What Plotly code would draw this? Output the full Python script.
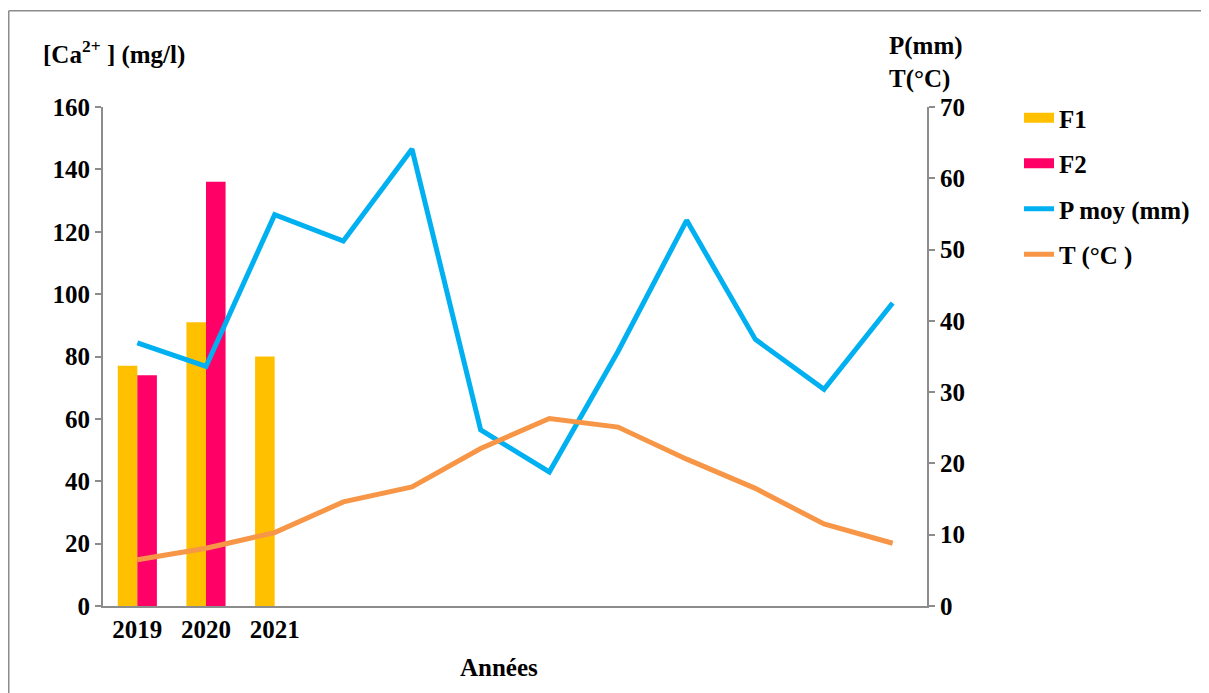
import plotly.graph_objects as go

# ---- data ----
years = ["2019", "2020", "2021"]
f1_ca = [77, 91, 80]
f2_ca = [74, 136]
p_moy = [36.9, 33.6, 54.9, 51.2, 64.1, 24.7, 18.8, 35.7, 54.1, 37.4, 30.4, 42.5]
temp = [6.5, 8.1, 10.3, 14.6, 16.7, 22.1, 26.3, 25.1, 20.6, 16.5, 11.5, 8.8]
n_points = list(range(len(p_moy)))

FONT = "Liberation Serif"
FS = 25
GRAY = "#8c8c8c"
C_F1, C_F2, C_P, C_T = "#FFC000", "#FF0066", "#00B0F0", "#F79646"

fig = go.Figure()
fig.add_trace(go.Bar(x=n_points[:len(f1_ca)], y=f1_ca, name="F1",
                     marker=dict(color=C_F1, line=dict(width=0)), showlegend=False))
fig.add_trace(go.Bar(x=n_points[:len(f2_ca)], y=f2_ca, name="F2",
                     marker=dict(color=C_F2, line=dict(width=0)), showlegend=False))
fig.add_trace(go.Scatter(x=n_points, y=p_moy, name="<b>P moy (mm)</b>", mode="lines",
                         line=dict(color=C_P, width=5), yaxis="y2", legendgroup="c",
                         legendrank=3))
fig.add_trace(go.Scatter(x=n_points, y=temp, name="<b>T (°C )</b>", mode="lines",
                         line=dict(color=C_T, width=5), yaxis="y2", legendgroup="d",
                         legendrank=4))
# legend entries for the bars, drawn as wide swatches
fig.add_trace(go.Scatter(x=[None], y=[None], name="<b>F1</b>", mode="lines",
                         line=dict(color=C_F1, width=14), legendgroup="a", legendrank=1))
fig.add_trace(go.Scatter(x=[None], y=[None], name="<b>F2</b>", mode="lines",
                         line=dict(color=C_F2, width=14), legendgroup="b", legendrank=2))

# page offset of 8px from the html body margin
OFF = 8
W, H = 1201, 685
L, T = 103 - OFF, 107 - OFF
R = W - (927 - OFF)
B = H - (606 - OFF)
pw, ph = W - L - R, H - T - B


def px_x(p):
    return (p - OFF - L) / pw


def px_y(p):
    return (H - B - (p - OFF)) / ph


fig.update_layout(
    width=W, height=H,
    margin=dict(l=L, r=R, t=T, b=B),
    paper_bgcolor="white", plot_bgcolor="white",
    font=dict(family=FONT, size=FS, color="black"),
    barmode="group", bargap=0.43, bargroupgap=0,
    showlegend=True,
    legend=dict(x=px_x(1019), y=px_y(95), xanchor="left", yanchor="top",
                font=dict(family=FONT, size=FS, color="black"),
                tracegroupgap=10, itemwidth=30, bgcolor="rgba(0,0,0,0)",
                traceorder="grouped"),
    xaxis=dict(range=[-0.5, 11.5], tickmode="array", tickvals=[0, 1, 2],
               ticktext=["<b>%s</b>" % y for y in years],
               showline=True, linecolor=GRAY, linewidth=2, ticks="",
               showgrid=False, zeroline=False,
               tickfont=dict(family=FONT, size=FS)),
    yaxis=dict(range=[0, 160], tickvals=list(range(0, 161, 20)),
               ticktext=["<b>%d</b>" % v for v in range(0, 161, 20)],
               showline=True, linecolor=GRAY, linewidth=2, ticks="outside",
               ticklen=6, tickcolor=GRAY, tickwidth=2,
               showgrid=False, zeroline=False,
               tickfont=dict(family=FONT, size=FS)),
    yaxis2=dict(range=[0, 70], tickvals=list(range(0, 71, 10)),
                ticktext=["<b>%d</b>" % v for v in range(0, 71, 10)],
                overlaying="y", side="right",
                showline=True, linecolor=GRAY, linewidth=2, ticks="outside",
                ticklen=6, tickcolor=GRAY, tickwidth=2,
                showgrid=False, zeroline=False,
                tickfont=dict(family=FONT, size=FS)),
)

annotations = [
    dict(text="<b>[Ca<sup>2+</sup> ] (mg/l)</b>", x=px_x(41), y=px_y(52),
         xanchor="left", yanchor="middle"),
    dict(text="<b>P(mm)<br>T(°C)</b>", x=px_x(887), y=px_y(63),
         xanchor="left", yanchor="middle", align="left"),
    dict(text="<b>Années</b>", x=px_x(499), y=px_y(667),
         xanchor="center", yanchor="middle"),
]
for a in annotations:
    a.update(xref="paper", yref="paper", showarrow=False,
             font=dict(family=FONT, size=FS, color="black"))
fig.update_layout(annotations=annotations)

# chart frame: only the top and left edges fall inside the picture
fig.add_shape(type="line", xref="paper", yref="paper",
              x0=px_x(8.75), x1=px_x(1209), y0=px_y(10.75), y1=px_y(10.75),
              line=dict(color=GRAY, width=1.5), layer="below")
fig.add_shape(type="line", xref="paper", yref="paper",
              x0=px_x(8.75), x1=px_x(8.75), y0=px_y(10.75), y1=px_y(693),
              line=dict(color=GRAY, width=1.5), layer="below")

fig.write_html("out.html")
